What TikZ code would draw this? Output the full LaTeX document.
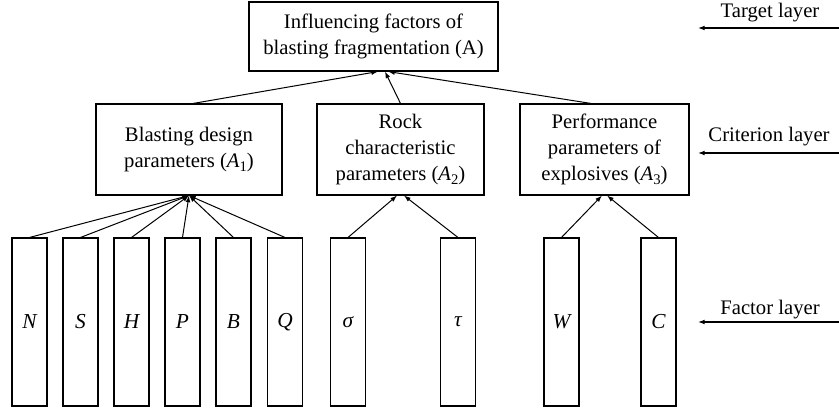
\documentclass[tikz,border=0pt]{standalone}
\usepackage{fontspec}
\setmainfont{Liberation Serif}
\usetikzlibrary{arrows.meta}
\newcommand\mysub[1]{\raisebox{-0.4ex}{\fontsize{11}{11}\selectfont #1}}
\begin{document}
\begin{tikzpicture}[x=0.75pt,y=-0.75pt,
  every node/.style={font=\fontsize{15.5}{19.5}\selectfont},
  box/.style={draw, line width=0.8pt, inner sep=0pt, align=center},
  fbox/.style={draw, line width=0.8pt, inner sep=0pt, minimum width=26.25pt, minimum height=126pt, font=\fontsize{16}{18.5}\selectfont\itshape},
  conn/.style={line width=0.75pt, -{Latex[length=5pt,width=3.6pt]}},
  layerarrow/.style={line width=0.9pt, -{Latex[length=5pt,width=3.6pt]}},
  layertext/.style={inner sep=0pt}]
\useasboundingbox (0,0) rectangle (839,411);
% top
\node[box, minimum width=186.75pt, minimum height=51.75pt] (A) at (373.5,36.5) {Influencing factors of\\blasting fragmentation (A)};
% criterion
\node[box, minimum width=139.5pt, minimum height=68.25pt] (A1) at (189,149.5) {Blasting design\\parameters (\textit{A}\mysub{1})};
\node[box, minimum width=125.25pt, minimum height=68.25pt] (A2) at (400.5,149.5) {Rock\\characteristic\\parameters (\textit{A}\mysub{2})};
\node[box, minimum width=126.75pt, minimum height=68.25pt] (A3) at (604.5,149.5) {Performance\\parameters of\\explosives (\textit{A}\mysub{3})};
% factors
\node[fbox] (N) at (29.5,322) {N};
\node[fbox] (S) at (80.5,322) {S};
\node[fbox] (H) at (131.5,322) {H};
\node[fbox] (P) at (182.5,322) {P};
\node[fbox] (B) at (233.5,322) {B};
\node[fbox] (Q) at (285,322) {Q};
\node[fbox] (sig) at (348,322) {σ};
\node[fbox] (tau) at (458,322) {τ};
\node[fbox] (W) at (561.5,322) {W};
\node[fbox] (C) at (658.5,322) {C};
% connectors to A1
\foreach \f in {N,S,H,P,B,Q}
  \draw[conn] (\f.north) -- (A1.south);
\draw[conn] (sig.north) -- ([xshift=-2.6pt]A2.south);
\draw[conn] (tau.north) -- ([xshift=2.6pt]A2.south);
\draw[conn] (W.north) -- ([xshift=-1.9pt]A3.south);
\draw[conn] (C.north) -- ([xshift=1.9pt]A3.south);
% connectors to A
\draw[conn] ([xshift=3pt]A1.north) -- ([xshift=3.4pt]A.south);
\draw[conn] (A2.north) -- ([xshift=8.6pt]A.south);
\draw[conn] ([xshift=-10pt]A3.north) -- ([xshift=10.9pt]A.south);
% layer labels
\node[layertext] (tl) at (770,13) {Target layer};
\node[layertext] (cl) at (769,137) {Criterion layer};
\node[layertext] (fl) at (770,310) {Factor layer};
\coordinate (t1) at (839,28); \coordinate (t2) at (698,28);
\coordinate (c1) at (839,153); \coordinate (c2) at (698,153);
\coordinate (f1) at (839,322); \coordinate (f2) at (698,322);
\draw[layerarrow] (t1) -- (t2);
\draw[layerarrow] (c1) -- (c2);
\draw[layerarrow] (f1) -- (f2);
\end{tikzpicture}
\end{document}
